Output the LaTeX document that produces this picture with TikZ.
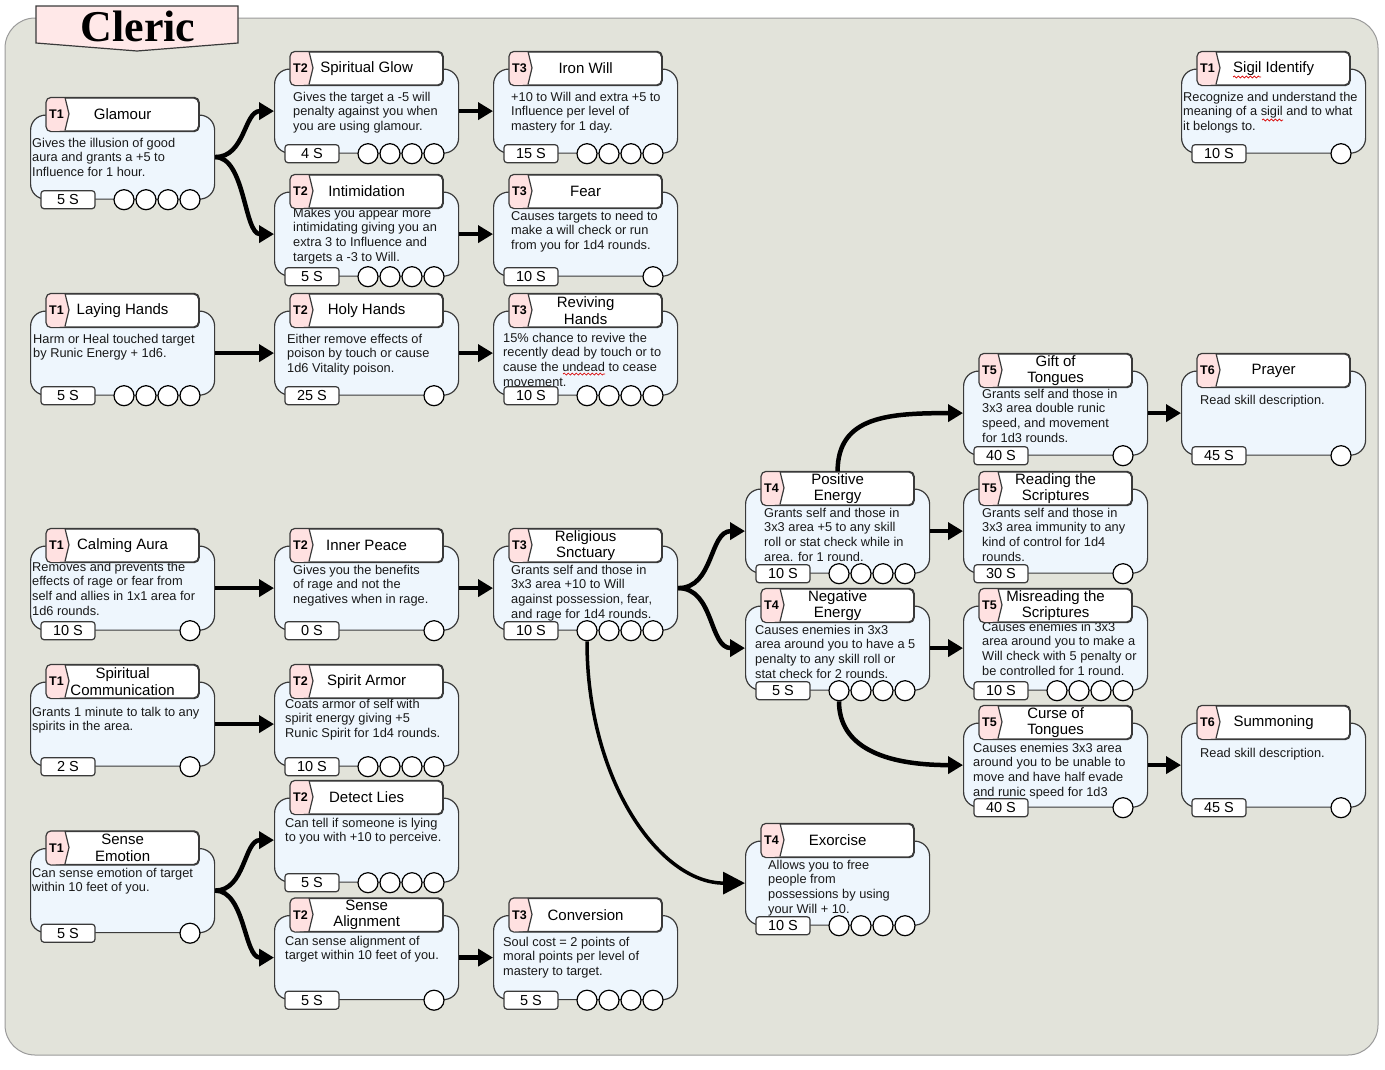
\documentclass[tikz,border=0pt]{standalone}
\usepackage{fontspec}
\setmainfont{Liberation Sans}
\newfontfamily\headfont{Liberation Serif}
\usetikzlibrary{arrows.meta, positioning, decorations.pathmorphing}

\definecolor{bodyfill}{HTML}{EEF6FD}
\definecolor{edge}{HTML}{3A3A3A}
\definecolor{tagpink}{HTML}{FFE1E1}
\definecolor{headpink}{HTML}{FFE8E8}
\definecolor{paper}{HTML}{E2E3DA}
\definecolor{frame}{HTML}{9A9A9A}

\tikzset{
  skillbody/.style={draw=edge, fill=bodyfill, line width=1.2pt, rounded corners=15pt,
    minimum width=184pt, minimum height=84pt, inner sep=0pt},
  titlebox/.style={draw=edge, fill=white, line width=1.2pt, rounded corners=5pt,
    minimum width=152pt, minimum height=33pt, inner sep=1pt, align=center,
    font=\fontsize{15}{16.5}\selectfont},
  tierlabel/.style={font=\bfseries\fontsize{12.5}{13}\selectfont, inner sep=0pt},
  desc/.style={align=left, inner sep=0pt, font=\fontsize{12.8}{14.6}\selectfont, text=black!90},
  costbox/.style={draw=edge, fill=white, line width=1.2pt, rounded corners=3pt,
    minimum width=54pt, minimum height=18pt, inner sep=0pt, font=\fontsize{14.5}{14.5}\selectfont},
  dot/.style={circle, draw=black, fill=white, line width=1.2pt, minimum size=20pt, inner sep=0pt},
  arr/.style={line width=4.5pt, -{Triangle[length=15pt,width=17pt]}},
  squiggle/.style={red!85!black, line width=0.7pt, decorate,
    decoration={snake, amplitude=1pt, segment length=4pt}},
}

% #1 name, #2 left, #3 top, #4 tier, #5 title, #6 cost, #7 circle offsets, #8 first baseline, #9 text
\newcommand{\skillcard}[9]{%
  \node[skillbody, anchor=north west] (#1) at (#2,#3) {};
  \node[desc, anchor=north west, yshift=10.22pt] (#1-d) at #8 {\strut#9};
  \node[titlebox, anchor=west] (#1-t) at ([xshift=16pt]#1.north west) {#5};
  \begin{scope}
    \clip[rounded corners=5pt] (#1-t.north west) rectangle (#1-t.south east);
    \fill[tagpink] (#1-t.north west) -- ++(19,0) -- ++(4,16.5) -- ++(-4,16.5) -- (#1-t.south west) -- cycle;
  \end{scope}
  \draw[edge, line width=1.2pt] ([xshift=19pt]#1-t.north west) -- ++(4,16.5) -- ++(-4,16.5);
  \draw[edge, line width=1.2pt, rounded corners=5pt] (#1-t.north west) rectangle (#1-t.south east);
  \node[tierlabel] at ([xshift=10.5pt]#1-t.west) {#4};
  \node[costbox] (#1-c) at ([xshift=38pt]#1.south west) {#6};
  \foreach \ox [count=\k] in {#7}
    \node[dot] (#1-o\k) at ([xshift=\ox pt]#1.south west) {};
}

\begin{document}
\begin{tikzpicture}[x=1pt, y=-1pt]
  \useasboundingbox (0,0) rectangle (1385,1069);
  \draw[frame, fill=paper, rounded corners=30pt, line width=1pt] (5,18) rectangle (1378,1055);

  %% Header
  \draw[edge, fill=headpink, line width=1.2pt] (36,6) -- (238,6) -- (238,43) -- (137,51) -- (36,43) -- cycle;
  \node[font=\headfont\bfseries\fontsize{44}{44}\selectfont, anchor=base, inner sep=0pt] (head) at (138,41) {Cleric};

  %% Column 1
  \skillcard{glamour}{30}{114.5}{T1}{Glamour}{5 S}{94,116,138,160}{(32,147)}%
    {Gives the illusion of good\\aura and grants a +5 to\\Influence for 1 hour.}
  \skillcard{laying}{30}{310.5}{T1}{Laying Hands}{5 S}{94,116,138,160}{(33,343)}%
    {Harm or Heal touched target\\by Runic Energy + 1d6.}
  \skillcard{calming}{30}{545.5}{T1}{Calming Aura}{10 S}{160}{(32,571)}%
    {Removes and prevents the\\effects of rage or fear from\\self and allies in 1x1 area for\\1d6 rounds.}
  \skillcard{spcomm}{30}{681.5}{T1}{Spiritual\\Communication}{2 S}{160}{(32,716)}%
    {Grants 1 minute to talk to any\\spirits in the area.}
  \skillcard{emotion}{30}{848}{T1}{Sense\\Emotion}{5 S}{160}{(32,877)}%
    {Can sense emotion of target\\within 10 feet of you.}

  %% Column 2
  \skillcard{glow}{274}{68.5}{T2}{Spiritual Glow}{4 S}{94,116,138,160}{(293,101)}%
    {Gives the target a -5 will\\penalty against you when\\you are using glamour.}
  \skillcard{intim}{274}{191.5}{T2}{Intimidation}{5 S}{94,116,138,160}{(293,217)}%
    {Makes you appear more\\intimidating giving you an\\extra 3 to Influence and\\targets a -3 to Will.}
  \skillcard{holy}{274}{310.5}{T2}{Holy Hands}{25 S}{160}{(287,343)}%
    {Either remove effects of\\poison by touch or cause\\1d6 Vitality poison.}
  \skillcard{inner}{274}{545.5}{T2}{Inner Peace}{0 S}{160}{(293,574)}%
    {Gives you the benefits\\of rage and not the\\negatives when in rage.}
  \skillcard{armor}{274}{681.5}{T2}{Spirit Armor}{10 S}{94,116,138,160}{(285,708)}%
    {Coats armor of self with\\spirit energy giving +5\\Runic Spirit for 1d4 rounds.}
  \skillcard{lies}{274}{797.5}{T2}{Detect Lies}{5 S}{94,116,138,160}{(285,827)}%
    {Can tell if someone is lying\\to you with +10 to perceive.}
  \skillcard{align}{274}{915}{T2}{Sense\\Alignment}{5 S}{160}{(285,945)}%
    {Can sense alignment of\\target within 10 feet of you.}

  %% Column 3
  \skillcard{ironwill}{493}{68.5}{T3}{Iron Will}{15 S}{94,116,138,160}{(511,101)}%
    {+10 to Will and extra +5 to\\Influence per level of\\mastery for 1 day.}
  \skillcard{fear}{493}{191.5}{T3}{Fear}{10 S}{160}{(511,220)}%
    {Causes targets to need to\\make a will check or run\\from you for 1d4 rounds.}
  \skillcard{reviving}{493}{310.5}{T3}{Reviving\\Hands}{10 S}{94,116,138,160}{(503,342)}%
    {15\% chance to revive the\\recently dead by touch or to\\cause the undead to cease\\movement.}
  \skillcard{relig}{493}{545.5}{T3}{Religious\\Snctuary}{10 S}{94,116,138,160}{(511,574)}%
    {Grants self and those in\\3x3 area +10 to Will\\against possession, fear,\\and rage for 1d4 rounds.}
  \skillcard{conversion}{493}{915}{T3}{Conversion}{5 S}{94,116,138,160}{(503,946)}%
    {Soul cost = 2 points of\\moral points per level of\\mastery to target.}

  %% Column 4
  \skillcard{posen}{745}{488.5}{T4}{Positive\\Energy}{10 S}{94,116,138,160}{(764,517)}%
    {Grants self and those in\\3x3 area +5 to any skill\\roll or stat check while in\\area. for 1 round.}
  \skillcard{negen}{745}{605.5}{T4}{Negative\\Energy}{5 S}{94,116,138,160}{(755,634)}%
    {Causes enemies in 3x3\\area around you to have a 5\\penalty to any skill roll or\\stat check for 2 rounds.}
  \skillcard{exorcise}{745}{840.5}{T4}{Exorcise}{10 S}{94,116,138,160}{(768,869)}%
    {Allows you to free\\people from\\possessions by using\\your Will + 10.}

  %% Column 5
  \skillcard{gift}{963}{370.5}{T5}{Gift of\\Tongues}{40 S}{160}{(982,398)}%
    {Grants self and those in\\3x3 area double runic\\speed, and movement\\for 1d3 rounds.}
  \skillcard{reading}{963}{488.5}{T5}{Reading the\\Scriptures}{30 S}{160}{(982,517)}%
    {Grants self and those in\\3x3 area immunity to any\\kind of control for 1d4\\rounds.}
  \skillcard{misread}{963}{605.5}{T5}{Misreading the\\Scriptures}{10 S}{94,116,138,160}{(982,631)}%
    {Causes enemies in 3x3\\area around you to make a\\Will check with 5 penalty or\\be controlled for 1 round.}
  \skillcard{curse}{963}{722.5}{T5}{Curse of\\Tongues}{40 S}{160}{(973,752)}%
    {Causes enemies 3x3 area\\around you to be unable to\\move and have half evade\\and runic speed for 1d3}

  %% Column 6
  \skillcard{sigil}{1181}{68.5}{T1}{Sigil Identify}{10 S}{160}{(1183,101)}%
    {Recognize and understand the\\meaning of a sigil and to what\\it belongs to.}
  \skillcard{prayer}{1181}{370.5}{T6}{Prayer}{45 S}{160}{(1200,404)}%
    {Read skill description.}
  \skillcard{summon}{1181}{722.5}{T6}{Summoning}{45 S}{160}{(1200,757)}%
    {Read skill description.}

  %% spell-check marks
  \draw[squiggle] (1233,77) -- (1261,77);
  \draw[squiggle] (1262,120) -- (1283,120);
  \draw[squiggle] (563,374) -- (605,374);

  %% Connectors
  \draw[arr] (glamour.east) .. controls +(30,0) and +(-30,0) .. (glow.west);
  \draw[arr] (glamour.east) .. controls +(30,0) and +(-30,0) .. (intim.west);
  \draw[arr] (glow.east) -- (ironwill.west);
  \draw[arr] (intim.east) -- (fear.west);
  \draw[arr] (laying.east) -- (holy.west);
  \draw[arr] (holy.east) -- (reviving.west);
  \draw[arr] (calming.east) -- (inner.west);
  \draw[arr] (inner.east) -- (relig.west);
  \draw[arr] (spcomm.east) -- (armor.west);
  \draw[arr] (emotion.east) .. controls +(30,0) and +(-30,0) .. (lies.west);
  \draw[arr] (emotion.east) .. controls +(30,0) and +(-30,0) .. (align.west);
  \draw[arr] (align.east) -- (conversion.west);
  \draw[arr] (relig.east) .. controls +(36,0) and +(-36,0) .. (posen.west);
  \draw[arr] (relig.east) .. controls +(36,0) and +(-36,0) .. (negen.west);
  \draw[arr, line width=3.5pt, -{Triangle[length=22pt,width=22pt]}]
    (relig-o1.south) .. controls +(0,140) and +(-85,0) .. (exorcise.west);
  \draw[arr] (posen.east) -- (reading.west);
  \draw[arr] (negen.east) -- (misread.west);
  \draw[arr] (posen-t.north) .. controls +(0,-55) and +(-75,0) .. (gift.west);
  \draw[arr] (negen-o1.south) .. controls +(0,45) and +(-80,0) .. (curse.west);
  \draw[arr] (gift.east) -- (prayer.west);
  \draw[arr] (curse.east) -- (summon.west);
\end{tikzpicture}
\end{document}
